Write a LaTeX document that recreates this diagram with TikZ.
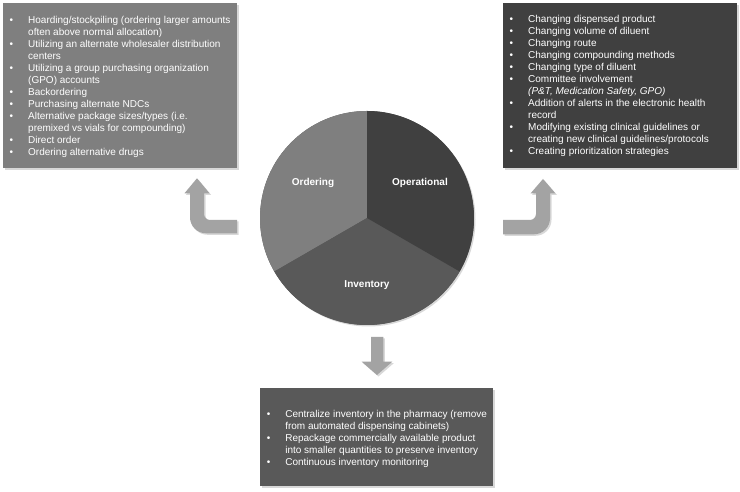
\documentclass[tikz,border=0pt]{standalone}
\usepackage{fontspec}
\setmainfont{Liberation Sans}
\usetikzlibrary{shadows}

\definecolor{ordgray}{RGB}{127,127,127}
\definecolor{invgray}{RGB}{89,89,89}
\definecolor{opgray}{RGB}{64,64,64}
\definecolor{arrowgray}{RGB}{163,163,163}

\newcommand{\bl}{\makebox[18.5pt][l]{\textbullet}}
\newcommand{\nb}{\hspace*{18.5pt}}

\begin{document}
\begin{tikzpicture}[x=1pt, y=1pt,
    softshadow/.style={drop shadow={shadow xshift=1.5pt, shadow yshift=-1.5pt, opacity=0.3}},
    listbox/.style={anchor=north west, inner sep=0, minimum width=234pt, minimum height=165pt, softshadow},
    listtext/.style={anchor=base west, inner sep=0, text=white, font=\fontsize{10}{12}\selectfont},
    slicelabel/.style={text=white, font=\fontsize{10}{12}\selectfont\bfseries},
    bentarrow/.style={fill=arrowgray, softshadow}]

    \path[use as bounding box, fill=white] (0,0) rectangle (740,492);

    % the three lists
    \node[listbox, fill=ordgray] (ordbox) at (3,489) {};
    \node[listbox, fill=opgray] (opbox) at (503,489) {};
    \node[listbox, fill=invgray, minimum width=233pt, minimum height=98pt] (invbox) at (260,104) {};

    \node[listtext] (ordtext) at (9.5,468.7) {\begin{tabular}[t]{@{}l@{}}
        \bl Hoarding/stockpiling (ordering larger amounts\\
        \nb often above normal allocation)\\
        \bl Utilizing an alternate wholesaler distribution\\
        \nb centers\\
        \bl Utilizing a group purchasing organization\\
        \nb (GPO) accounts\\
        \bl Backordering\\
        \bl Purchasing alternate NDCs\\
        \bl Alternative package sizes/types (i.e.\\
        \nb premixed vs vials for compounding)\\
        \bl Direct order\\
        \bl Ordering alternative drugs
    \end{tabular}};

    \node[listtext] (optext) at (509.5,469.3) {\begin{tabular}[t]{@{}l@{}}
        \bl Changing dispensed product\\
        \bl Changing volume of diluent\\
        \bl Changing route\\
        \bl Changing compounding methods\\
        \bl Changing type of diluent\\
        \bl Committee involvement\\
        \nb \textit{(P\&T, Medication Safety, GPO)}\\
        \bl Addition of alerts in the electronic health\\
        \nb record\\
        \bl Modifying existing clinical guidelines or\\
        \nb creating new clinical guidelines/protocols\\
        \bl Creating prioritization strategies
    \end{tabular}};

    \node[listtext] (invtext) at (266.6,74.7) {\begin{tabular}[t]{@{}l@{}}
        \bl Centralize inventory in the pharmacy (remove\\
        \nb from automated dispensing cabinets)\\
        \bl Repackage commercially available product\\
        \nb into smaller quantities to preserve inventory\\
        \bl Continuous inventory monitoring
    \end{tabular}};

    % pie
    \node[circle, minimum size=214pt, inner sep=0, fill=invgray, softshadow] (pie) at (367,274) {};
    \fill[ordgray] (pie.center) -- ++(90:107pt) arc[start angle=90, end angle=210, radius=107pt] -- cycle;
    \fill[invgray] (pie.center) -- ++(210:107pt) arc[start angle=210, end angle=330, radius=107pt] -- cycle;
    \fill[opgray] (pie.center) -- ++(-30:107pt) arc[start angle=-30, end angle=90, radius=107pt] -- cycle;

    \node[slicelabel] (ordlabel) at (313,309) {Ordering};
    \node[slicelabel] (oplabel) at (420,309) {Operational};
    \node[slicelabel] (invlabel) at (367,207) {Inventory};

    % arrows
    \fill[bentarrow] (237,272) -- (210,272) arc[start angle=270, end angle=180, radius=6pt]
        -- (204,298.7) -- (209.5,298.7) -- (197,313.7) -- (184.5,298.7) -- (190,298.7)
        -- (190,274.7) arc[start angle=180, end angle=270, radius=16pt] -- (237,258.7) -- cycle;

    \fill[bentarrow] (503,272) -- (530,272) arc[start angle=270, end angle=360, radius=6pt]
        -- (536,298.5) -- (530.5,298.5) -- (543,313) -- (555.5,298.5) -- (550,298.5)
        -- (550,273.7) arc[start angle=0, end angle=-90, radius=16pt] -- (503,257.7) -- cycle;

    \fill[bentarrow] (371,155) -- (383.3,155) -- (383.3,130.3) -- (392.3,130.3)
        -- (377,117) -- (361.7,130.3) -- (371,130.3) -- cycle;

\end{tikzpicture}
\end{document}
